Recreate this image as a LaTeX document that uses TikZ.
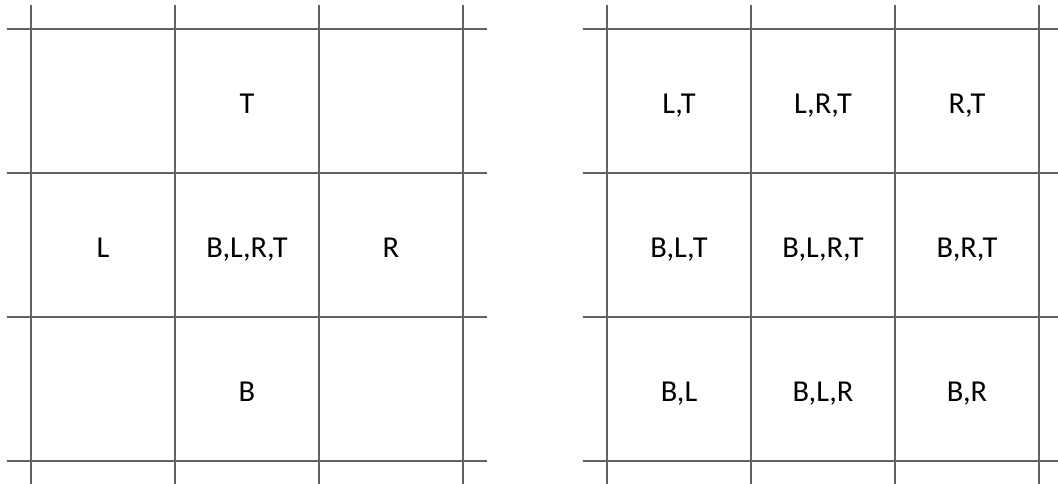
\documentclass[tikz,border=0pt]{standalone}
\usepackage{fontspec}
\setmainfont{Carlito}
\begin{document}
\begin{tikzpicture}[
    x=0.75pt, y=-0.75pt,
    every node/.style={anchor=base, font=\fontsize{22.8}{27}\selectfont, inner sep=0pt},
    gridline/.style={draw=black!62, line width=1.1pt}
]
  \useasboundingbox (0,0) rectangle (1058,484);

  % Left grid
  \foreach \y in {29,173,317,461} \draw[gridline] (7,\y) -- (487,\y);
  \foreach \x in {31,175,319,463} \draw[gridline] (\x,5) -- (\x,485);

  % Right grid
  \foreach \y in {29,173,317,461} \draw[gridline] (583,\y) -- (1063,\y);
  \foreach \x in {607,751,895,1039} \draw[gridline] (\x,5) -- (\x,485);

  % Left labels
  \node (lT) at (247,114) {T};
  \node (lL) at (103,258) {L};
  \node (lC) at (247,258) {B,L,R,T};
  \node (lR) at (391,258) {R};
  \node (lB) at (247,402) {B};

  % Right labels, row 1
  \node (rLT) at (679,114) {L,T};
  \node (rLRT) at (823,114) {L,R,T};
  \node (rRT) at (967,114) {R,T};
  % Row 2
  \node (rBLT) at (679,258) {B,L,T};
  \node (rBLRT) at (823,258) {B,L,R,T};
  \node (rBRT) at (967,258) {B,R,T};
  % Row 3
  \node (rBL) at (679,402) {B,L};
  \node (rBLR) at (823,402) {B,L,R};
  \node (rBR) at (967,402) {B,R};
\end{tikzpicture}
\end{document}
